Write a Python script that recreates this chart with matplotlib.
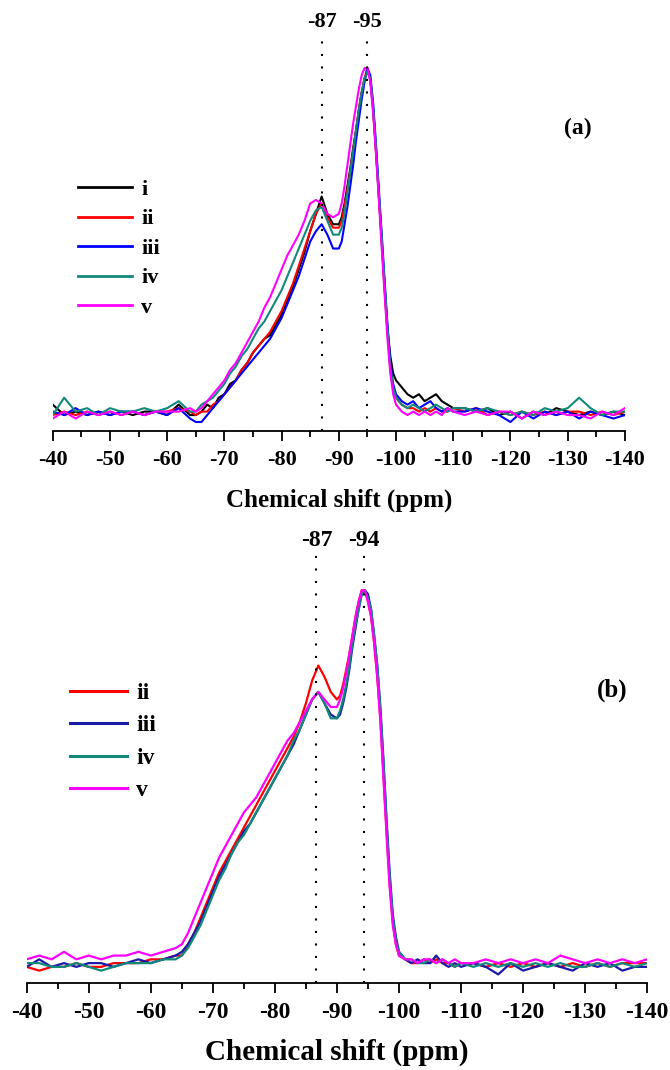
import numpy as np
import matplotlib.pyplot as plt

plt.rcParams['font.family'] = ['Liberation Serif', 'DejaVu Serif']
plt.rcParams['font.weight'] = 'bold'
plt.rcParams['axes.unicode_minus'] = False

# sample positions (ppm), finer around the peaks
shift = np.concatenate([
    np.arange(-40, -65, -2),      # 13 points
    np.arange(-65, -90, -1),      # 25 points
    np.arange(-90, -100.5, -0.5), # 21 points
    np.arange(-101, -111, -1),    # 10 points
    np.arange(-112, -141, -2),    # 15 points
])

# ---- panel (a) intensities (normalised) ----
a_i = [0.03, 0.00, 0.01, 0.00, 0.01, 0.00, 0.01, 0.00, 0.01, 0.01, 0.00, 0.03, 0.00,
       0.00, 0.01, 0.03, 0.02, 0.05, 0.06, 0.09, 0.10, 0.13, 0.15, 0.18, 0.20, 0.22,
       0.23, 0.26, 0.29, 0.33, 0.37, 0.42, 0.47, 0.53, 0.58, 0.63, 0.58, 0.55,
       0.55, 0.57, 0.61, 0.66, 0.71, 0.77, 0.82, 0.88, 0.93, 0.97, 0.99, 0.97, 0.88,
       0.76, 0.63, 0.50, 0.37, 0.25, 0.17, 0.12, 0.10,
       0.08, 0.06, 0.05, 0.06, 0.04, 0.05, 0.06, 0.04, 0.03, 0.02,
       0.02, 0.01, 0.02, 0.00, 0.01, -0.01, 0.01, 0.00, 0.02, 0.01, 0.00, 0.01, 0.00, 0.01, 0.00]
a_ii = [0.00, 0.01, 0.00, 0.01, 0.00, 0.01, 0.00, 0.01, 0.00, 0.01, 0.01, 0.02, 0.01,
        0.00, 0.01, 0.01, 0.03, 0.04, 0.06, 0.08, 0.10, 0.13, 0.15, 0.18, 0.20, 0.22,
        0.24, 0.27, 0.30, 0.34, 0.38, 0.43, 0.48, 0.53, 0.58, 0.61, 0.57, 0.54,
        0.54, 0.56, 0.60, 0.65, 0.70, 0.76, 0.82, 0.88, 0.93, 0.97, 1.00, 0.97, 0.88,
        0.76, 0.63, 0.50, 0.36, 0.24, 0.13, 0.08, 0.05,
        0.03, 0.02, 0.02, 0.01, 0.02, 0.01, 0.02, 0.01, 0.01, 0.02,
        0.01, 0.02, 0.00, 0.01, 0.00, 0.01, 0.00, 0.01, 0.00, 0.01, 0.01, 0.00, 0.01, 0.00, 0.01]
a_iii = [0.01, 0.00, 0.02, 0.00, 0.01, 0.00, 0.01, 0.01, 0.00, 0.01, 0.00, 0.02, -0.01,
         -0.02, -0.02, 0.00, 0.02, 0.04, 0.06, 0.08, 0.10, 0.12, 0.14, 0.16, 0.18, 0.20,
         0.22, 0.25, 0.28, 0.32, 0.36, 0.40, 0.45, 0.50, 0.53, 0.55, 0.52, 0.48,
         0.48, 0.50, 0.55, 0.60, 0.66, 0.72, 0.79, 0.85, 0.91, 0.96, 1.00, 0.98, 0.90,
         0.78, 0.65, 0.52, 0.39, 0.26, 0.15, 0.09, 0.06,
         0.04, 0.03, 0.04, 0.02, 0.03, 0.04, 0.02, 0.01, 0.02, 0.01,
         0.01, 0.02, 0.01, 0.00, -0.02, 0.01, -0.01, 0.01, 0.00, 0.01, -0.01, 0.01, 0.00, -0.01, 0.00]
a_iv = [0.00, 0.05, 0.01, 0.02, 0.00, 0.02, 0.01, 0.01, 0.02, 0.01, 0.02, 0.04, 0.01,
        0.01, 0.03, 0.04, 0.05, 0.07, 0.09, 0.12, 0.14, 0.17, 0.19, 0.22, 0.25, 0.27,
        0.30, 0.33, 0.36, 0.40, 0.44, 0.48, 0.52, 0.56, 0.59, 0.60, 0.56, 0.52,
        0.52, 0.54, 0.58, 0.64, 0.70, 0.76, 0.82, 0.88, 0.93, 0.97, 0.99, 0.97, 0.89,
        0.77, 0.64, 0.51, 0.38, 0.25, 0.14, 0.08, 0.05,
        0.03, 0.02, 0.03, 0.02, 0.01, 0.02, 0.03, 0.02, 0.01, 0.02,
        0.02, 0.01, 0.02, 0.01, 0.00, 0.01, 0.00, 0.02, 0.01, 0.02, 0.05, 0.02, 0.00, 0.01, 0.01]
a_v = [-0.01, 0.01, -0.01, 0.01, 0.00, 0.01, 0.00, 0.01, 0.00, 0.01, 0.01, 0.01, 0.02,
       0.01, 0.02, 0.04, 0.06, 0.08, 0.10, 0.13, 0.15, 0.18, 0.21, 0.24, 0.27, 0.31,
       0.34, 0.38, 0.42, 0.46, 0.49, 0.52, 0.56, 0.61, 0.62, 0.61, 0.58, 0.57,
       0.58, 0.61, 0.66, 0.72, 0.78, 0.84, 0.89, 0.94, 0.98, 1.00, 1.00, 0.96, 0.87,
       0.75, 0.62, 0.48, 0.35, 0.22, 0.12, 0.06, 0.03,
       0.01, 0.00, 0.01, 0.00, 0.01, 0.00, 0.01, 0.00, 0.02, 0.01,
       0.00, 0.01, 0.00, 0.01, 0.01, -0.01, 0.01, 0.00, 0.01, 0.00, 0.00, -0.01, 0.01, 0.00, 0.02]

# ---- panel (b) intensities ----
b_ii = [0.00, -0.01, 0.00, 0.00, 0.01, 0.00, 0.00, 0.01, 0.01, 0.01, 0.02, 0.02, 0.03,
        0.03, 0.06, 0.09, 0.13, 0.17, 0.21, 0.25, 0.28, 0.31, 0.34, 0.37, 0.40, 0.43,
        0.46, 0.49, 0.52, 0.55, 0.58, 0.61, 0.65, 0.70, 0.76, 0.80, 0.77, 0.73,
        0.71, 0.72, 0.75, 0.79, 0.83, 0.88, 0.93, 0.97, 1.00, 1.00, 0.97, 0.93, 0.86,
        0.77, 0.66, 0.51, 0.36, 0.22, 0.12, 0.06, 0.03,
        0.02, 0.01, 0.01, 0.02, 0.01, 0.02, 0.01, 0.01, 0.00, 0.01,
        0.01, 0.00, 0.01, 0.00, 0.01, 0.00, 0.01, 0.00, 0.01, 0.00, 0.01, 0.00, 0.01, 0.01, 0.01]
b_iii = [0.00, 0.02, 0.00, 0.01, 0.00, 0.01, 0.01, 0.00, 0.01, 0.02, 0.01, 0.02, 0.03,
         0.04, 0.06, 0.09, 0.12, 0.16, 0.20, 0.24, 0.27, 0.30, 0.33, 0.36, 0.38, 0.41,
         0.44, 0.47, 0.50, 0.53, 0.56, 0.59, 0.63, 0.67, 0.71, 0.73, 0.70, 0.67,
         0.66, 0.67, 0.70, 0.74, 0.79, 0.85, 0.90, 0.95, 0.99, 1.00, 0.99, 0.95, 0.88,
         0.80, 0.69, 0.55, 0.39, 0.25, 0.14, 0.08, 0.04,
         0.02, 0.01, 0.02, 0.01, 0.01, 0.03, 0.01, 0.00, 0.01, 0.00,
         0.01, 0.00, -0.02, 0.01, -0.01, 0.00, 0.01, 0.00, -0.01, 0.01, 0.00, 0.01, -0.01, 0.00, 0.00]
b_iv = [0.01, 0.01, 0.00, 0.00, 0.01, 0.00, -0.01, 0.00, 0.01, 0.01, 0.01, 0.02, 0.02,
        0.03, 0.05, 0.08, 0.11, 0.15, 0.19, 0.23, 0.26, 0.30, 0.33, 0.35, 0.38, 0.41,
        0.44, 0.47, 0.50, 0.53, 0.56, 0.60, 0.63, 0.67, 0.71, 0.73, 0.70, 0.66,
        0.66, 0.68, 0.71, 0.75, 0.80, 0.86, 0.91, 0.95, 0.99, 1.00, 0.98, 0.95, 0.88,
        0.80, 0.68, 0.54, 0.38, 0.24, 0.13, 0.07, 0.04,
        0.02, 0.02, 0.01, 0.01, 0.02, 0.01, 0.02, 0.01, 0.00, 0.01,
        0.00, 0.01, 0.00, 0.01, 0.00, 0.01, 0.00, 0.01, 0.00, 0.00, 0.01, 0.00, 0.01, 0.00, 0.01]
b_v = [0.02, 0.03, 0.02, 0.04, 0.02, 0.03, 0.02, 0.03, 0.03, 0.04, 0.03, 0.04, 0.05,
       0.06, 0.09, 0.13, 0.17, 0.21, 0.25, 0.29, 0.32, 0.35, 0.38, 0.41, 0.43, 0.45,
       0.48, 0.51, 0.54, 0.57, 0.60, 0.62, 0.65, 0.68, 0.71, 0.73, 0.71, 0.69,
       0.69, 0.71, 0.74, 0.78, 0.83, 0.88, 0.93, 0.97, 1.00, 1.00, 0.97, 0.93, 0.86,
       0.77, 0.65, 0.50, 0.35, 0.21, 0.11, 0.06, 0.03,
       0.02, 0.02, 0.01, 0.02, 0.02, 0.01, 0.02, 0.01, 0.02, 0.01,
       0.01, 0.02, 0.01, 0.02, 0.01, 0.02, 0.01, 0.03, 0.02, 0.01, 0.02, 0.01, 0.02, 0.01, 0.02]

labels_a = ['i', 'ii', 'iii', 'iv', 'v']
colors_a = ['black', '#ff0000', '#0000ff', '#11897a', '#ff00ff']
labels_b = ['ii', 'iii', 'iv', 'v']
colors_b = ['#ff0000', '#1a1aa8', '#11897a', '#ff00ff']

peaks_a = [-87, -95]
peak_lab_a = ['-87', '-95']
peaks_b = [-86.7, -94.3]
peak_lab_b = ['-87', '-94']

fig = plt.figure(figsize=(6.7, 10.7), dpi=100)
ax_a = fig.add_axes([0.0787, 0.5975, 0.854, 0.3745])
ax_b = fig.add_axes([0.0399, 0.0816, 0.926, 0.409])


def style_axis(ax, tick_fs, label_fs, pad, labelpad):
    ax.set_xlim(-40, -140)
    for s in ['left', 'right', 'top']:
        ax.spines[s].set_visible(False)
    ax.spines['bottom'].set_linewidth(1.3)
    ax.set_yticks([])
    ax.set_xticks(np.arange(-40, -141, -10))
    ax.set_xticks(np.arange(-45, -140, -10), minor=True)
    ax.tick_params(axis='x', which='major', direction='out', length=7, width=1.3,
                   labelsize=tick_fs, pad=pad)
    ax.tick_params(axis='x', which='minor', direction='out', length=4.5, width=1.3)
    ax.set_xlabel('Chemical shift (ppm)', fontsize=label_fs, fontweight='bold',
                  labelpad=labelpad)


# Panel (a)
for y, lab, c in zip([a_i, a_ii, a_iii, a_iv, a_v], labels_a, colors_a):
    ax_a.plot(shift, y, color=c, lw=1.5, label=lab)
ax_a.set_ylim(-0.045, 1.11)
for p, t in zip(peaks_a, peak_lab_a):
    ax_a.axvline(p, ymin=0, ymax=0.98, color='black', lw=1.5, linestyle=(0, (1, 5)))
    ax_a.text(p, 1.02, t, transform=ax_a.get_xaxis_transform(), ha='center', va='center',
              fontsize=16, fontweight='bold')
style_axis(ax_a, 16, 18, 7, 13)
leg = ax_a.legend(loc='upper left', bbox_to_anchor=(0.044, 0.627), frameon=False, fontsize=16,
                  handlelength=2.45, handletextpad=0.4, labelspacing=0.4, borderpad=0,
                  borderaxespad=0)
for h in leg.get_lines():
    h.set_linewidth(2)
fig.text(0.863, 0.880, '(a)', fontsize=17, fontweight='bold', ha='center', va='center')

# Panel (b)
for y, lab, c in zip([b_ii, b_iii, b_iv, b_v], labels_b, colors_b):
    ax_b.plot(shift, y, color=c, lw=1.6, label=lab)
ax_b.set_ylim(-0.042, 1.12)
for p, t in zip(peaks_b, peak_lab_b):
    ax_b.axvline(p, ymin=0, ymax=0.982, color='black', lw=1.5, linestyle=(0, (1, 5)))
    ax_b.text(p, 1.011, t, transform=ax_b.get_xaxis_transform(), ha='center', va='center',
              fontsize=17, fontweight='bold')
style_axis(ax_b, 17, 21, 7, 11)
leg = ax_b.legend(loc='upper left', bbox_to_anchor=(0.07, 0.686), frameon=False, fontsize=17,
                  handlelength=2.4, handletextpad=0.4, labelspacing=0.46, borderpad=0,
                  borderaxespad=0)
for h in leg.get_lines():
    h.set_linewidth(2.2)
fig.text(0.913, 0.355, '(b)', fontsize=18, fontweight='bold', ha='center', va='center')

fig.savefig('out.png', dpi=100)
